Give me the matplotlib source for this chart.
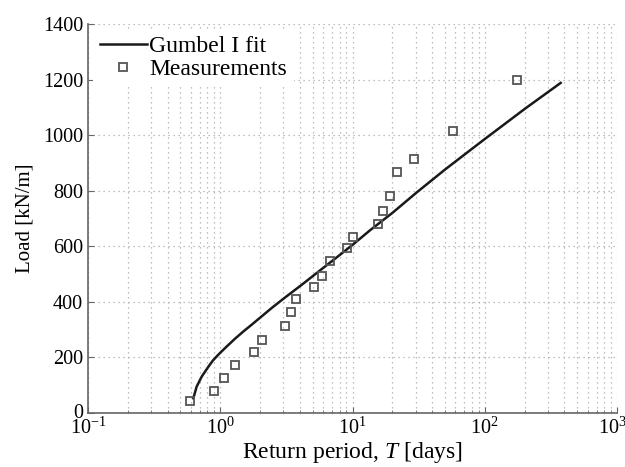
import numpy as np
import matplotlib
matplotlib.use("Agg")
import matplotlib.pyplot as plt
import matplotlib.transforms as mtransforms
from matplotlib.ticker import LogLocator, MultipleLocator, NullFormatter

plt.rcParams['font.family'] = ['Liberation Serif', 'DejaVu Serif']
plt.rcParams['mathtext.fontset'] = 'custom'
plt.rcParams['mathtext.rm'] = 'Liberation Serif'
plt.rcParams['mathtext.it'] = 'Liberation Serif:italic'

# Gumbel type I fit, load vs return period
fit_T = [0.626, 0.663, 0.724, 0.77, 0.82, 0.88, 0.967, 1.1, 1.29, 1.5, 1.73,
         2.0, 2.45, 3.0, 4.25, 5.5, 7.59, 10.0, 13.6, 20.0, 30.6, 50.0, 97.5,
         200.0, 375]
fit_load = [53, 95, 131, 150, 169, 189, 210, 236, 267, 294, 318,
            343, 378, 411, 466, 508, 560, 605, 658, 720, 794, 876, 982,
            1094, 1188]

# Measured loads
meas_T = [0.59, 0.90, 1.07, 1.29, 1.79, 2.06, 3.07, 3.40, 3.71, 5.14, 5.87,
          6.71, 9.04, 10.1, 15.7, 16.9, 19.2, 21.8, 29.0, 57.8, 175]
meas_load = [45, 80, 125, 174, 218, 262, 312, 363, 411, 454, 494,
             547, 595, 632, 682, 727, 781, 868, 915, 1016, 1200]

fig = plt.figure(figsize=(6.25, 4.67), dpi=100)
ax = fig.add_axes([0.1408, 0.1156, 0.8464, 0.833])

ax.plot(fit_T, fit_load, color='#1a1a1a', lw=1.8, label='Gumbel I fit')
ax.plot(meas_T, meas_load, ls='none', marker='s', ms=6, mfc='none',
        mec='#555555', mew=1.3, label='Measurements')

ax.set_xscale('log')
ax.set_xlim(0.1, 1000)
ax.set_ylim(0, 1400)
ax.xaxis.set_major_locator(LogLocator(base=10, numticks=10))
ax.xaxis.set_minor_locator(LogLocator(base=10, subs=np.arange(2, 10), numticks=20))
ax.xaxis.set_minor_formatter(NullFormatter())
ax.yaxis.set_major_locator(MultipleLocator(200))

ax.grid(True, which='major', color='#aaaaaa', ls=(0, (1, 3)), lw=0.9)
ax.grid(True, which='minor', axis='x', color='#aaaaaa', ls=(0, (1, 3)), lw=0.9)

for s in ['top', 'right']:
    ax.spines[s].set_visible(False)
for s in ['left', 'bottom']:
    ax.spines[s].set_color('#666666')
    ax.spines[s].set_linewidth(1.2)

ax.tick_params(which='both', direction='in', colors='#666666',
               labelcolor='black', labelsize=14.5)
ax.tick_params(which='major', length=4)
ax.tick_params(which='minor', length=2.5)

ax.set_xlabel(r'Return period, $T$ [days]', fontsize=17, labelpad=1)
ax.set_ylabel('Load [kN/m]', fontsize=15, labelpad=6)

# last decade label sits against the right edge; nudge it left a little
fig.canvas.draw()
for lbl in ax.get_xticklabels():
    if lbl.get_position()[0] == 1000:
        lbl.set_transform(lbl.get_transform() +
                          mtransforms.ScaledTranslation(-5 / 100, 0, fig.dpi_scale_trans))
# lift the zero label so it clears the first decade label
for lbl in ax.get_yticklabels():
    if lbl.get_position()[1] == 0:
        lbl.set_transform(lbl.get_transform() +
                          mtransforms.ScaledTranslation(0, 2 / 100, fig.dpi_scale_trans))

leg = ax.legend(loc='upper left', fontsize=17, frameon=True, fancybox=False,
                handlelength=2.0, handletextpad=0.1, labelspacing=0.05,
                borderaxespad=0.2, borderpad=0.3)
leg.get_frame().set_edgecolor('none')
leg.get_frame().set_facecolor('white')
leg.get_frame().set_alpha(1)

fig.savefig('out.png', dpi=100)
